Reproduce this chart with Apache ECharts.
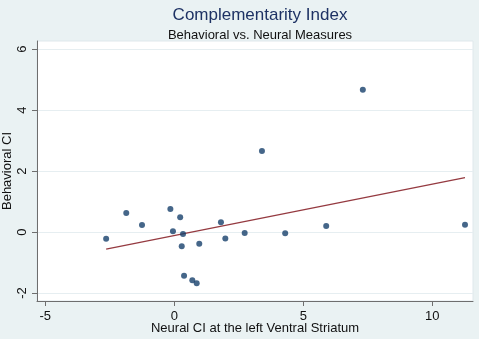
<!DOCTYPE html>
<html>
<head>
<meta charset="utf-8">
<script src="https://cdn.jsdelivr.net/npm/echarts@6/dist/echarts.min.js"></script>
<style>
  html, body { margin: 0; padding: 0; background: #eaf2f3; }
  #chart { width: 479px; height: 339px; }
</style>
</head>
<body>
<div id="chart"></div>
<script>
// neural CI (x) and behavioral CI (y)
var neuralCI = [-2.64, -1.86, -1.25, -0.15, -0.05, 0.23, 0.34, 0.29, 0.97, 0.38, 0.70, 0.87,
  1.81, 1.98, 2.73, 4.30, 3.40, 5.89, 7.31, 11.27];
var behavioralCI = [-0.22, 0.63, 0.23, 0.76, 0.03, 0.49, -0.06, -0.46, -0.38, -1.43, -1.58, -1.68,
  0.32, -0.21, -0.03, -0.04, 2.66, 0.20, 4.67, 0.24];
// fitted line end points
var fitX = [-2.64, 11.27];
var fitY = [-0.56, 1.79];
var xTicks = [-5, 0, 5, 10];
var yTicks = [-2, 0, 2, 4, 6];

var chart = echarts.init(document.getElementById("chart"));
var font = "Liberation Sans";

var points = neuralCI.map(function(x, i) { return [x, behavioralCI[i]]; });
var fit = fitX.map(function(x, i) { return [x, fitY[i]]; });

var option = {
  backgroundColor: "#eaf2f3",
  animation: false,
  title: [
    {
      text: "Complementarity Index",
      left: 255,
      top: 2,
      textAlign: "center",
      textStyle: { color: "#1e3264", fontSize: 17, fontWeight: "normal", fontFamily: font }
    },
    {
      text: "Behavioral vs. Neural Measures",
      left: 255,
      top: 24,
      textAlign: "center",
      textStyle: { color: "#111", fontSize: 13, fontWeight: "normal", fontFamily: font }
    }
  ],
  grid: {
    left: 37,
    right: 6,
    top: 41,
    bottom: 38,
    outerBoundsMode: "none",
    show: true,
    backgroundColor: "#ffffff",
    borderWidth: 1,
    borderColor: "#dfe8ec"
  },
  xAxis: {
    type: "value",
    min: -5.32,
    max: 11.58,
    name: "Neural CI at the left Ventral Striatum",
    nameLocation: "middle",
    nameGap: 21,
    nameMoveOverlap: false,
    nameTextStyle: { color: "#111", fontSize: 13, fontFamily: font },
    axisLine: { show: true, onZero: false, lineStyle: { color: "#6e6e6e", width: 1 } },
    axisTick: { show: true, length: 5, customValues: xTicks, lineStyle: { color: "#6e6e6e" } },
    axisLabel: { customValues: xTicks, margin: 9, color: "#111", fontSize: 13, fontFamily: font },
    splitLine: { show: false }
  },
  yAxis: {
    type: "value",
    min: -2.26,
    max: 6.27,
    name: "Behavioral CI",
    nameLocation: "middle",
    nameGap: 23,
    nameMoveOverlap: false,
    nameTextStyle: { color: "#111", fontSize: 13, fontFamily: font },
    axisLine: { show: true, onZero: false, lineStyle: { color: "#6e6e6e", width: 1 } },
    axisTick: { show: true, length: 5, customValues: yTicks, lineStyle: { color: "#6e6e6e" } },
    axisLabel: { customValues: yTicks, rotate: 90, margin: 8, color: "#111", fontSize: 13, fontFamily: font },
    splitLine: { show: true, lineStyle: { color: "#e6eef1", width: 1 } }
  },
  series: [
    {
      type: "scatter",
      data: points,
      symbolSize: 6,
      itemStyle: { color: "#16406b" },
      z: 3
    },
    {
      type: "line",
      data: fit,
      showSymbol: false,
      lineStyle: { color: "#953a40", width: 1.3 },
      z: 2
    }
  ]
};
chart.setOption(option);
</script>
</body>
</html>
